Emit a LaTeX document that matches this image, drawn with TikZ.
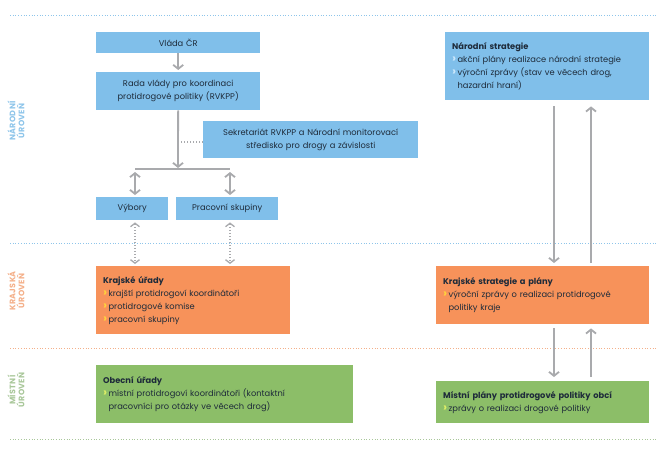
\documentclass[tikz,border=0pt]{standalone}
\usepackage{fontspec}
\setmainfont{Poppins}
\newfontfamily\urovenfont[LetterSpace=4]{Poppins}
\usetikzlibrary{arrows.meta}
\definecolor{modra}{HTML}{80BFEA}
\definecolor{oranz}{HTML}{F7925A}
\definecolor{zelena}{HTML}{8CBE68}
\definecolor{sipka}{HTML}{A9AAAD}
\definecolor{pismo}{HTML}{1E2B3A}
\definecolor{modral}{HTML}{8EC5EA}
\definecolor{oranzl}{HTML}{F4B08A}
\definecolor{zelenal}{HTML}{A9C79A}
\definecolor{chmod}{HTML}{CBE7FB}
\definecolor{chora}{HTML}{FFD23C}
\definecolor{chzel}{HTML}{DDEE66}
\newcommand{\chev}[1]{\textcolor{#1}{\bfseries\fontsize{12}{13}\selectfont ›}\,}
\newcommand{\chsp}{\hphantom{\bfseries\fontsize{12}{13}\selectfont ›}\,}

\begin{document}
\begin{tikzpicture}
[x=1pt,y=-1pt,
 box/.style={anchor=north west,inner xsep=7pt,inner ysep=0pt,text=pismo,
   font=\fontsize{8.3}{13}\selectfont},
 cbox/.style={box,align=center},
 lbox/.style={box,align=left},
 arr/.style={draw=sipka,line width=1.8pt,-{Straight Barb[length=4pt,width=10pt]}},
 darr/.style={draw=sipka,line width=1.8pt,{Straight Barb[length=4pt,width=10pt]}-{Straight Barb[length=4pt,width=10pt]}},
 tarr/.style={draw=sipka,line width=1.3pt,dash pattern=on 1.3pt off 1.7pt,{Straight Barb[length=3.5pt,width=9pt]}-{Straight Barb[length=3.5pt,width=9pt]}},
 sep/.style={line width=0.9pt,dash pattern=on 0.9pt off 1.8pt},
 uroven/.style={rotate=90,align=center,font=\urovenfont\bfseries\fontsize{8}{9.2}\selectfont}]
\useasboundingbox (0,0) rectangle (669,450);

% urovne
\draw[sep,draw=modral] (10,15) -- (657,15);
\draw[sep,draw=modral] (10,243) -- (657,243);
\draw[sep,draw=oranzl] (10,348) -- (657,348);
\draw[sep,draw=zelenal] (10,439) -- (657,439);
\node[uroven,text=modral] (un) at (16,121) {NÁRODNÍ\\ÚROVEŇ};
\node[uroven,text=oranzl] (uk) at (16,291) {KRAJSKÁ\\ÚROVEŇ};
\node[uroven,text=zelenal] (um) at (16,390) {MÍSTNÍ\\ÚROVEŇ};

% levy sloupec
\node[cbox,fill=modra,text width=150pt,minimum height=21pt] (vlada) at (96,32) {Vláda ČR};
\node[cbox,fill=modra,text width=150pt,minimum height=38pt] (rada) at (96,72)
  {Rada vlády pro koordinaci\\protidrogové politiky (RVKPP)};
\node[cbox,fill=modra,text width=201pt,minimum height=37pt] (sek) at (203,121)
  {Sekretariát RVKPP a Národní monitorovací\\středisko pro drogy a závislosti};
\node[cbox,fill=modra,text width=58pt,minimum height=23pt] (vyb) at (96,197) {Výbory};
\node[cbox,fill=modra,text width=88pt,minimum height=23pt] (prs) at (176,197) {Pracovní skupiny};
\node[lbox,fill=oranz,text width=180pt,minimum height=68pt] (kru) at (96,266)
  {\textbf{Krajské úřady}\\
   \chev{chora}krajští protidrogoví koordinátoři\\
   \chev{chora}protidrogové komise\\
   \chev{chora}pracovní skupiny};
\node[lbox,fill=zelena,text width=243pt,minimum height=58pt] (obu) at (96,365)
  {\textbf{Obecní úřady}\\
   \chev{chzel}místní protidrogoví koordinátoři (kontaktní\\
   \chsp pracovníci pro otázky ve věcech drog)};

% pravy sloupec
\node[lbox,fill=modra,text width=190pt,minimum height=68pt] (nar) at (445,32)
  {\textbf{Národní strategie}\\
   \chev{chmod}akční plány realizace národní strategie\\
   \chev{chmod}výroční zprávy (stav ve věcech drog,\\
   \chsp hazardní hraní)};
\node[lbox,fill=oranz,text width=199pt,minimum height=58pt] (krs) at (436,266)
  {\textbf{Krajské strategie a plány}\\
   \chev{chora}výroční zprávy o realizaci protidrogové\\
   \chsp politiky kraje};
\node[lbox,fill=zelena,text width=199pt,minimum height=42pt] (mis) at (436,381)
  {\textbf{Místní plány protidrogové politiky obcí}\\
   \chev{chzel}zprávy o realizaci drogové politiky};

\coordinate (rozv) at (178,169);
\coordinate (bl) at (135,169);
\coordinate (br) at (230,169);

\draw[arr,shorten >=2pt] (vlada) -- (rada);
\draw[arr,shorten >=1pt] (rada) -- (rozv);
\draw[draw=sipka,line width=1.8pt] (bl) -- (br);
\draw[draw=sipka,line width=1.3pt,dash pattern=on 1.3pt off 1.7pt,shorten >=2pt] (sek.west |- 0,142) -- (rada.south |- 0,142);
\draw[darr,shorten <=3pt,shorten >=2pt] (bl) -- (vyb.north -| bl);
\draw[darr,shorten <=3pt,shorten >=2pt] (br) -- (prs.north -| br);
\draw[tarr,shorten <=2pt,shorten >=2pt] (vyb.south -| bl) -- (kru.north -| bl);
\draw[tarr,shorten <=2pt,shorten >=2pt] (prs.south -| br) -- (kru.north -| br);

\draw[arr,shorten <=6pt,shorten >=3pt] (nar.south -| 554,0) -- (krs.north -| 554,0);
\draw[arr,shorten <=3pt,shorten >=6pt] (krs.north -| 591,0) -- (nar.south -| 591,0);
\draw[arr,shorten <=4pt,shorten >=4pt] (krs.south -| 554,0) -- (mis.north -| 554,0);
\draw[arr,shorten <=4pt,shorten >=4pt] (mis.north -| 591,0) -- (krs.south -| 591,0);
\end{tikzpicture}
\end{document}
